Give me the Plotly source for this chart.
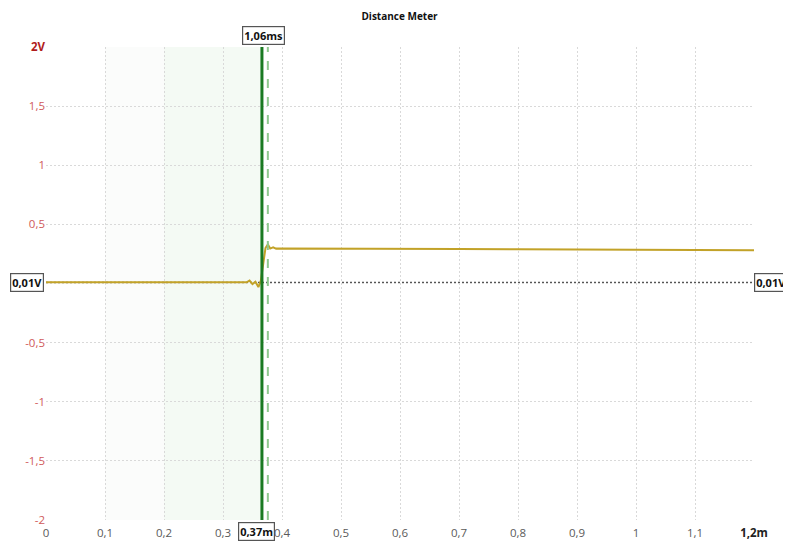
import plotly.graph_objects as go

# Data
distance_m = [0.0, 0.1, 0.2, 0.3, 0.34, 0.345, 0.35, 0.355, 0.36, 0.364, 0.368, 0.372, 0.376, 0.38, 0.385, 0.39, 0.4,
              0.5, 0.6, 0.7, 0.8, 0.9, 1.0, 1.05, 1.1, 1.2]
voltage_v = [0.01, 0.01, 0.01, 0.01, 0.01, 0.025, -0.005, 0.015, -0.03, 0.02, 0.18, 0.3, 0.33, 0.295, 0.305, 0.295, 0.297,
             0.297, 0.293, 0.292, 0.29, 0.289, 0.288, 0.285, 0.284, 0.282]

x_tick_vals = [0, 0.1, 0.2, 0.3, 0.4, 0.5, 0.6, 0.7, 0.8, 0.9, 1.0, 1.1, 1.2]
x_tick_text = ["0", "0,1", "0,2", "0,3", "0,4", "0,5", "0,6", "0,7", "0,8", "0,9", "1", "1,1",
               "<b><span style='color:#222'>1,2m</span></b>"]
y_tick_vals = [2, 1.5, 1, 0.5, 0, -0.5, -1, -1.5, -2]
y_tick_text = ["<b><span style='color:#b01c1c'>2V</span></b>", "1,5", "1", "0,5", "", "-0,5", "-1", "-1,5", "-2"]

cursor_x = 0.366
cursor2_x = 0.376
ref_level = 0.01
cursor_time_label = "1,06ms"
cursor_dist_label = "0,37m"
ref_label = "0,01V"

fig = go.Figure()

# shaded regions
fig.add_vrect(x0=0.1, x1=0.2, fillcolor="#fbfcfb", line_width=0, layer="below")
fig.add_vrect(x0=0.2, x1=cursor_x, fillcolor="#f4faf4", line_width=0, layer="below")

# reference dotted line
fig.add_shape(type="line", x0=0, x1=1.2, y0=ref_level, y1=ref_level, xref="x", yref="y",
              line=dict(color="#555555", width=1.2, dash="2px,2px"), layer="below")

fig.add_trace(go.Scatter(x=distance_m, y=voltage_v, mode="lines",
                         line=dict(color="#c2a228", width=2), showlegend=False, hoverinfo="skip"))

# cursors
fig.add_shape(type="line", x0=cursor2_x, x1=cursor2_x, y0=-2, y1=2.0, xref="x", yref="y",
              line=dict(color="#8fc88f", width=2, dash="dash"))
fig.add_shape(type="line", x0=cursor_x, x1=cursor_x, y0=-2, y1=2.0, xref="x", yref="y",
              line=dict(color="#1a7a22", width=3))

box = dict(showarrow=False, bgcolor="white", bordercolor="#555555", borderwidth=1.2, borderpad=1,
           font=dict(family="Open Sans", size=11, color="#111111"))
fig.add_annotation(x=cursor_x + 0.003, y=1, yref="paper", yanchor="bottom", yshift=2,
                   text="<b>" + cursor_time_label + "</b>", **box)
fig.add_annotation(x=cursor_x - 0.01, y=0, yref="paper", yanchor="top", yshift=-2,
                   text="<b>" + cursor_dist_label + "</b>", **box)
fig.add_annotation(x=0, xref="paper", xanchor="right", xshift=-2, y=ref_level,
                   text="<b>" + ref_label + "</b>", **box)
fig.add_annotation(x=1, xref="paper", xanchor="left", xshift=0, y=ref_level,
                   text="<b>" + ref_label + "</b>", **box)

fig.update_layout(
    width=783, height=534,
    margin=dict(l=38, r=37, t=39, b=22, autoexpand=False),
    paper_bgcolor="white", plot_bgcolor="white",
    title=dict(text="<b>Distance Meter</b>", x=0.5, xanchor="center", y=0.985, yanchor="middle",
               font=dict(family="Open Sans", size=10, color="#111111")),
    font=dict(family="Open Sans", size=11),
    xaxis=dict(range=[0, 1.2], tickvals=x_tick_vals, ticktext=x_tick_text,
               showgrid=True, gridcolor="#d9d9d9", griddash="2px,2px", gridwidth=1,
               zeroline=False, showline=False, ticks="", ticklabelstandoff=4,
               tickfont=dict(color="#5a5a5a", size=11.5)),
    yaxis=dict(range=[-2, 2], tickvals=y_tick_vals, ticktext=y_tick_text,
               showgrid=True, gridcolor="#d9d9d9", griddash="2px,2px", gridwidth=1,
               zeroline=False, showline=False, ticks="",
               tickfont=dict(color="#d05a5a", size=11.5)),
)

fig.write_html("out.html")
